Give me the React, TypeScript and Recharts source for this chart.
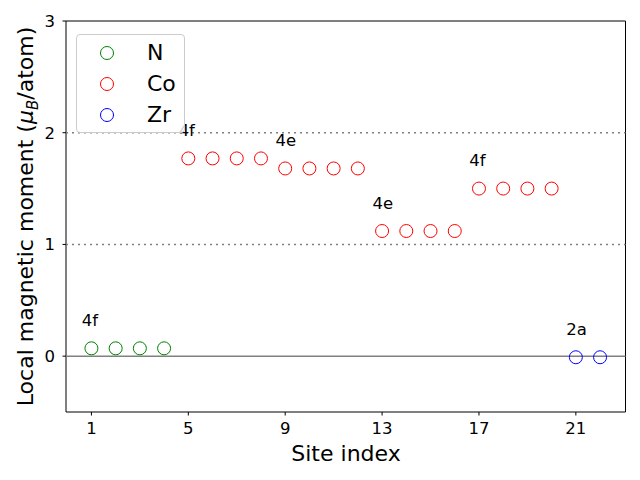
import {
  ReferenceArea,
  ReferenceLine,
  Scatter,
  ScatterChart,
  XAxis,
  YAxis,
} from "recharts";

const FONT = "DejaVu Sans, sans-serif";

// site indices and local moments (mu_B/atom)
const N_SITES = [1, 2, 3, 4];
const N_MOMENTS = [0.07, 0.07, 0.07, 0.07];

const CO_SITES = [5, 6, 7, 8, 9, 10, 11, 12, 13, 14, 15, 16, 17, 18, 19, 20];
const CO_MOMENTS = [
  1.77, 1.77, 1.77, 1.77, 1.68, 1.68, 1.68, 1.68, 1.12, 1.12, 1.12, 1.12, 1.5, 1.5, 1.5, 1.5,
];

const ZR_SITES = [21, 22];
const ZR_MOMENTS = [-0.01, -0.01];

// Wyckoff labels placed above the first site of each group
const WYCKOFF_LABELS = ["4f", "4f", "4e", "4e", "4f", "2a"];
const WYCKOFF_SITES = [1, 5, 9, 13, 17, 21];
const WYCKOFF_MOMENTS = [0.07, 1.77, 1.68, 1.12, 1.5, -0.01];

const X_TICKS = [1, 5, 9, 13, 17, 21];
const Y_TICKS = [0, 1, 2, 3];

const SERIES = [
  { name: "N", color: "#008000", sites: N_SITES, moments: N_MOMENTS },
  { name: "Co", color: "#ff0000", sites: CO_SITES, moments: CO_MOMENTS },
  { name: "Zr", color: "#0000ff", sites: ZR_SITES, moments: ZR_MOMENTS },
];

const annotations = WYCKOFF_LABELS.map((label, i) => ({
  label,
  x: WYCKOFF_SITES[i] - 0.4,
  y: WYCKOFF_MOMENTS[i] + 0.2,
}));

function ringShape(color: string) {
  return (p: any) => (
    <circle cx={p.cx} cy={p.cy} r={6.5} fill="none" stroke={color} strokeWidth={1} />
  );
}

export default function App() {
  return (
    <div style={{ position: "absolute", left: 0, top: 0, width: 640, height: 480, background: "#fff" }}>
      <ScatterChart width={640} height={480} margin={{ top: 21, right: 14.5, bottom: 0, left: 0 }}>
        <XAxis
          type="number"
          dataKey="x"
          domain={[-0.05, 23.05]}
          ticks={X_TICKS}
          allowDataOverflow
          height={68}
          axisLine={false}
          tickLine={{ stroke: "#000" }}
          tickSize={3.5}
          tickMargin={7}
          tick={{ fill: "#000", fontSize: 16.5, fontFamily: FONT }}
          label={{
            content: () => (
              <text x={346} y={461} textAnchor="middle" fontSize={22} fontFamily={FONT} fill="#000">
                Site index
              </text>
            ),
          }}
        />
        <YAxis
          type="number"
          dataKey="y"
          domain={[-0.5, 3]}
          ticks={Y_TICKS}
          allowDataOverflow
          width={66}
          axisLine={false}
          tickLine={{ stroke: "#000" }}
          tickSize={3.5}
          tickMargin={7.5}
          tick={{ fill: "#000", fontSize: 16.5, fontFamily: FONT }}
          label={{
            content: () => (
              <text
                x={33}
                y={216.5}
                transform="rotate(-90, 33, 216.5)"
                textAnchor="middle"
                fontSize={22}
                fontFamily={FONT}
                fill="#000"
              >
                Local magnetic moment (
                <tspan fontStyle="italic">μ</tspan>
                <tspan fontStyle="italic" fontSize={15} dy={5}>B</tspan>
                <tspan dy={-5}>/atom)</tspan>
              </text>
            ),
          }}
        />
        <ReferenceLine y={0} stroke="#808080" strokeWidth={1.5} />
        <ReferenceLine y={1} stroke="#808080" strokeWidth={1.5} strokeDasharray="2 4" />
        <ReferenceLine y={2} stroke="#808080" strokeWidth={1.5} strokeDasharray="2 4" />
        {SERIES.map((s) => (
          <Scatter
            key={s.name}
            name={s.name}
            data={s.sites.map((x, i) => ({ x, y: s.moments[i] }))}
            shape={ringShape(s.color)}
            isAnimationActive={false}
          />
        ))}
        <Scatter
          name="labels"
          legendType="none"
          data={annotations}
          isAnimationActive={false}
          shape={(p: any) => (
            <text x={p.cx} y={p.cy} fontSize={16.5} fontFamily={FONT} fill="#000">
              {p.payload.label}
            </text>
          )}
        />
        <ReferenceArea
          x1={-0.05}
          x2={23.05}
          y1={-0.5}
          y2={3}
          fill="none"
          stroke="#000"
          strokeWidth={1}
        />
      </ScatterChart>
      <div
        style={{
          position: "absolute",
          left: 76,
          top: 34,
          width: 109,
          height: 99,
          boxSizing: "border-box",
          border: "1px solid #cccccc",
          borderRadius: 4,
          background: "rgba(255,255,255,0.8)",
          fontFamily: FONT,
          fontSize: 22,
          color: "#000",
        }}
      >
        {SERIES.map((s, i) => (
          <div
            key={s.name}
            style={{ position: "absolute", left: 0, top: 3 + i * 31, height: 30, lineHeight: "30px" }}
          >
            <svg width={16} height={16} style={{ position: "absolute", left: 22, top: 7 }}>
              <circle cx={8} cy={8} r={6.5} fill="none" stroke={s.color} strokeWidth={1} />
            </svg>
            <span style={{ position: "absolute", left: 70, top: 0, whiteSpace: "nowrap" }}>{s.name}</span>
          </div>
        ))}
      </div>
    </div>
  );
}
